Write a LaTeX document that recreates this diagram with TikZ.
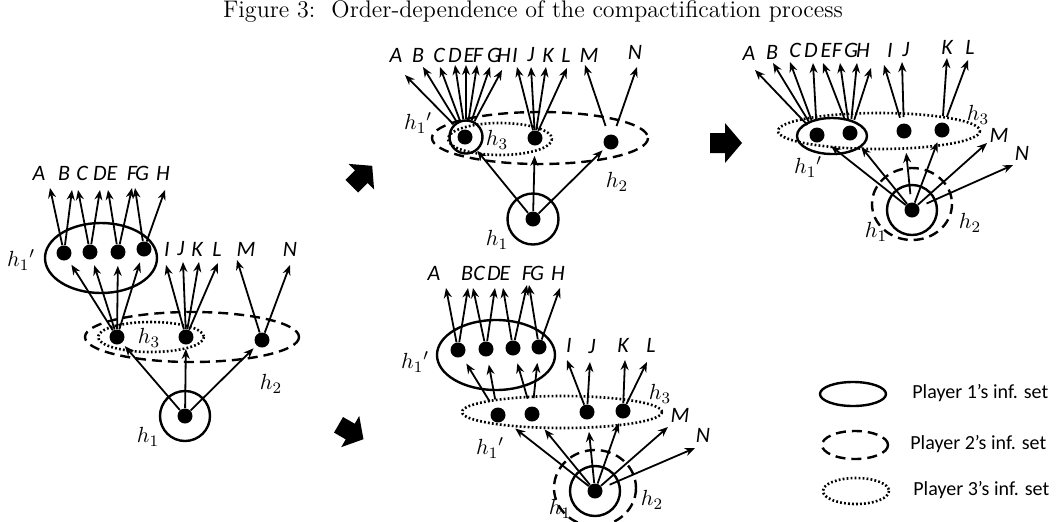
\documentclass[tikz,border=0pt]{standalone}
\usepackage{fontspec}
\setsansfont{Carlito}
\usetikzlibrary{arrows.meta}

\begin{document}
\begin{tikzpicture}[x=0.5pt, y=-0.5pt,
    dot/.style={circle, fill, inner sep=0pt, minimum size=7.5pt},
    arr/.style={-{Stealth[length=5pt, width=4pt]}, line width=0.9pt},
    leaf/.style={font=\fontsize{11}{13}\sffamily\itshape, inner sep=0pt},
    lab/.style={font=\fontsize{11}{13}\selectfont, inner sep=0pt},
    oneset/.style={line width=1.2pt},
    twoset/.style={line width=1.2pt, dash pattern=on 5pt off 3pt},
    threeset/.style={line width=1.3pt, dash pattern=on 0.9pt off 1.1pt},
    legtext/.style={font=\fontsize{10}{12}\sffamily, anchor=west, inner sep=0pt}]

    \useasboundingbox (0,0) rectangle (1057,521);

    % Title
    \node[font=\fontsize{12}{14}\selectfont] (title) at (533,12)
        {Figure 3:\hspace{8pt}Order-dependence of the compactification process};

    % ---------------- Left tree ----------------
    \node[dot] (lroot) at (185,416) {};
    \node[dot] (lmid1) at (117,337) {};
    \node[dot] (lmid2) at (186,337) {};
    \node[dot] (lmid3) at (262,340) {};
    \node[dot] (ltop1) at (64,253) {};
    \node[dot] (ltop2) at (90,252) {};
    \node[dot] (ltop3) at (118,252) {};
    \node[dot] (ltop4) at (144,249) {};

    % information sets
    \draw[oneset] (lroot) circle [radius=25];
    \draw[twoset] (192,337) ellipse [x radius=107, y radius=25];
    \draw[threeset] (151,337) ellipse [x radius=53, y radius=15];
    \draw[oneset] (101,258) ellipse [x radius=56, y radius=35];

    \node[lab] (lh1) at (148,437) {$h_1$};
    \node[lab] (lh2) at (271,384) {$h_2$};
    \node[lab] (lh3) at (149,338) {$h_3$};
    \node[lab] (lh1p) at (21,260) {$h_1{}'$};

    % moves
    \foreach \m in {1,2,3}
        \draw[arr, shorten >=2pt] (lroot) -- (lmid\m);
    \foreach \t in {1,...,4}
        \draw[arr, shorten >=3pt] (lmid1) -- (ltop\t);
    \foreach \n/\x/\y/\u/\v/\s in {A/39/173/50/188/ltop1, B/64/173/72/190/ltop1,
        C/82/173/78/190/ltop2, D/100/173/100/190/ltop2, E/112/173/108/190/ltop3,
        F/132/173/132/188/ltop3, G/142/173/135/188/ltop4, H/163/173/165/190/ltop4,
        I/167/249/166/265/lmid2, J/181/249/183/262/lmid2, K/197/249/199/262/lmid2,
        L/217/249/218/263/lmid2, M/246/249/237/260/lmid3, N/290/249/290/265/lmid3} {
        \node[leaf] (l\n) at (\x,\y) {\n};
        \coordinate (l\n tip) at (\u,\v);
        \draw[arr] (\s) -- (l\n tip);
    }

    % ---------------- Upper middle tree ----------------
    \node[dot] (uroot) at (533,219) {};
    \node[dot] (umid1) at (465,137) {};
    \node[dot] (umid2) at (535,138) {};
    \node[dot] (umid3) at (611,142) {};
    \node[circle, draw, oneset, inner sep=0pt, minimum size=16.5pt] (uring) at (466,137) {};

    \draw[oneset] (uroot) circle [radius=25.5];
    \draw[twoset] (540,138) ellipse [x radius=108, y radius=26];
    \draw[threeset] (500,139) ellipse [x radius=52, y radius=16];

    \node[lab] (uh1) at (497,240) {$h_1$};
    \node[lab] (uh2) at (617,182) {$h_2$};
    \node[lab] (uh3) at (497,140) {$h_3$};
    \node[lab] (uh1p) at (418,123) {$h_1{}'$};

    \draw[arr] (uroot) -- (uring);
    \draw[arr, shorten >=5pt] (uroot) -- (umid2);
    \draw[arr, shorten >=2pt] (uroot) -- (umid3);
    \foreach \n/\x/\y/\u/\v/\s in {A/396/55/405/75/uring, B/418/55/423/67/uring,
        C/439/55/440/67/uring, D/455/55/455/65/uring, E/469/55/466/65/uring,
        F/478/55/477/65/uring, G/494/55/490/67/uring, H/504/55/502/70/uring,
        I/515/55/517/67/umid2, J/531/55/531/67/umid2, K/548/55/546/67/umid2,
        L/566/55/567/68/umid2} {
        \node[leaf] (u\n) at (\x,\y) {\n};
        \coordinate (u\n tip) at (\u,\v);
        \draw[arr] (\s) -- (u\n tip);
    }
    \node[leaf] (uM) at (589,55) {M};
    \node[leaf] (uN) at (635,52) {N};
    \coordinate (uMtip) at (585,65);
    \coordinate (uNtip) at (637,67);
    \draw[arr, shorten <=4.5pt] (umid3) -- (uMtip);
    \draw[arr, shorten <=4.5pt] (umid3) -- (uNtip);

    % ---------------- Upper right tree ----------------
    \node[dot] (rroot) at (912,210) {};
    \node[dot] (rmid1) at (817,135) {};
    \node[dot] (rmid2) at (850,133) {};
    \node[dot] (rmid3) at (904,131) {};
    \node[dot] (rmid4) at (942,130) {};

    \draw[oneset] (rroot) circle [radius=25];
    \draw[twoset] (912,204) ellipse [x radius=40, y radius=36];
    \draw[oneset] (832,136) ellipse [x radius=35, y radius=18];
    \draw[threeset] (879,131) ellipse [x radius=101, y radius=18];

    \node[lab] (rh1) at (876,232) {$h_1$};
    \node[lab] (rh2) at (970,223) {$h_2$};
    \node[lab] (rh3) at (978,115) {$h_3$};
    \node[lab] (rh1p) at (808,167) {$h_1{}'$};

    \draw[arr, shorten >=5pt] (rroot) -- (rmid1);
    \draw[arr, shorten >=5pt] (rroot) -- (rmid2);
    \draw[arr, shorten >=7pt, shorten <=4pt] (rroot) -- (rmid3);
    \draw[arr, shorten >=2.5pt] (rroot) -- (rmid4);
    \node[leaf] (rM) at (999,135) {M};
    \node[leaf] (rN) at (1022,153) {N};
    \coordinate (rMtip) at (987,143);
    \coordinate (rNtip) at (1013,165);
    \draw[arr] (rroot) -- (rMtip);
    \draw[arr, shorten <=4pt] (rroot) -- (rNtip);
    \foreach \n/\x/\y/\u/\v/\s in {A/749/53/755/70/rmid1, B/772/52/773/63/rmid1,
        C/795/50/790/62/rmid1, D/811/50/813/63/rmid1, E/826/50/823/63/rmid2,
        F/837/50/840/63/rmid2, G/851/50/857/63/rmid2, H/863/50/871/68/rmid2,
        I/890/50/884/65/rmid3, J/906/50/902/62/rmid3, K/947/47/947/58/rmid4,
        L/970/47/968/60/rmid4} {
        \node[leaf] (r\n) at (\x,\y) {\n};
        \coordinate (r\n tip) at (\u,\v);
        \draw[arr, shorten <=3pt] (\s) -- (r\n tip);
    }

    % ---------------- Lower middle tree ----------------
    \node[dot] (broot) at (595,491) {};
    \node[dot] (bmid1) at (498,415) {};
    \node[dot] (bmid2) at (532,414) {};
    \node[dot] (bmid3) at (587,412) {};
    \node[dot] (bmid4) at (623,411) {};
    \node[dot] (btop1) at (458,350) {};
    \node[dot] (btop2) at (486,349) {};
    \node[dot] (btop3) at (513,348) {};
    \node[dot] (btop4) at (539,347) {};

    \draw[oneset] (broot) circle [radius=25];
    \draw[twoset] (595,488) ellipse [x radius=41, y radius=38];
    \draw[threeset] (562,412) ellipse [x radius=100, y radius=16];
    \draw[oneset] (496,355) ellipse [x radius=59, y radius=35];

    \node[lab] (bh1) at (560,509) {$h_1$};
    \node[lab] (bh2) at (652,500) {$h_2$};
    \node[lab] (bh3) at (660,394) {$h_3$};
    \node[lab] (bh1p) at (490,448) {$h_1{}'$};
    \node[lab] (bh1q) at (415,362) {$h_1{}'$};

    \draw[arr, shorten >=7pt] (broot) -- (bmid1);
    \draw[arr, shorten >=6pt] (broot) -- (bmid2);
    \draw[arr, shorten >=6pt] (broot) -- (bmid3);
    \draw[arr, shorten >=2.5pt] (broot) -- (bmid4);
    \node[leaf] (bM) at (680,415) {M};
    \node[leaf] (bN) at (703,435) {N};
    \coordinate (bMtip) at (668,427);
    \coordinate (bNtip) at (695,448);
    \draw[arr] (broot) -- (bMtip);
    \draw[arr, shorten <=4pt] (broot) -- (bNtip);
    \draw[arr, shorten <=4pt, shorten >=4pt] (bmid1) -- (btop1);
    \draw[arr, shorten <=4pt, shorten >=4pt] (bmid1) -- (btop2);
    \draw[arr, shorten <=4pt, shorten >=4pt] (bmid2) -- (btop3);
    \draw[arr, shorten <=4pt, shorten >=4pt] (bmid2) -- (btop4);
    \foreach \n/\x/\y/\u/\v/\s in {A/434/273/446/288/btop1, B/467/273/468/288/btop1,
        C/479/273/473/288/btop2, D/494/273/495/288/btop2, E/505/273/503/288/btop3,
        F/527/273/527/285/btop3, G/537/273/529/285/btop4, H/558/273/560/288/btop4,
        I/569/345/567/360/bmid3, J/592/347/590/362/bmid3, K/623/345/625/360/bmid4,
        L/651/345/647/362/bmid4} {
        \node[leaf] (b\n) at (\x,\y) {\n};
        \coordinate (b\n tip) at (\u,\v);
        \draw[arr] (\s) -- (b\n tip);
    }

    % Block arrows between the trees
    \fill[shift={(362,176)}, rotate=45, scale=0.9]
        (-16,-10) -- (-1,-10) -- (-1,-20) -- (16,0) -- (-1,20) -- (-1,10) -- (-16,10) -- cycle;
    \fill[shift={(351,432)}, rotate=-30, scale=0.9]
        (-16,-10) -- (-1,-10) -- (-1,-20) -- (16,0) -- (-1,20) -- (-1,10) -- (-16,10) -- cycle;
    \fill[shift={(726,143)}]
        (-16,-10) -- (-1,-10) -- (-1,-20) -- (16,0) -- (-1,20) -- (-1,10) -- (-16,10) -- cycle;

    % Legend
    \draw[oneset] (853,394) ellipse [x radius=33, y radius=12];
    \draw[twoset] (855,445) ellipse [x radius=33, y radius=14];
    \draw[threeset] (856,491) ellipse [x radius=33, y radius=13];
    \node[legtext] (leg1) at (912,393) {Player 1’s inf. set};
    \node[legtext] (leg2) at (910,444) {Player 2’s inf. set};
    \node[legtext] (leg3) at (913,490) {Player 3’s inf. set};

\end{tikzpicture}
\end{document}
